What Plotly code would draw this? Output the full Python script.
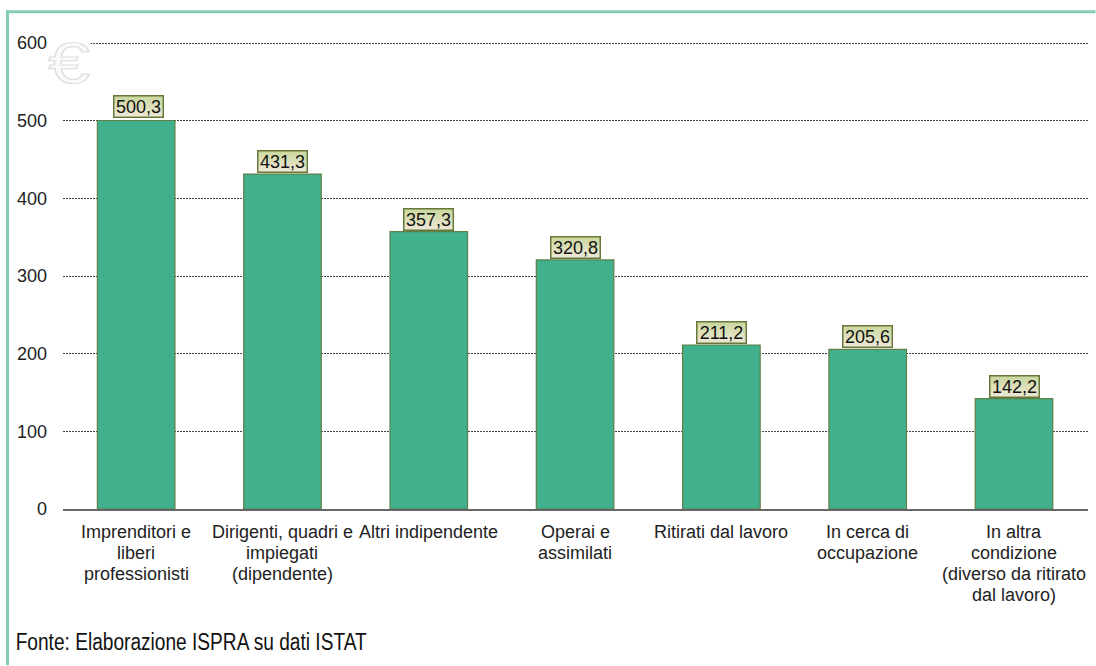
import plotly.graph_objects as go

category_lines = [
    ["Imprenditori e", "liberi", "professionisti"],
    ["Dirigenti, quadri e", "impiegati", "(dipendente)"],
    ["Altri indipendente"],
    ["Operai e", "assimilati"],
    ["Ritirati dal lavoro"],
    ["In cerca di", "occupazione"],
    ["In altra", "condizione", "(diverso da ritirato", "dal lavoro)"],
]
categories = [" ".join(c) for c in category_lines]
values = [500.3, 431.3, 357.3, 320.8, 211.2, 205.6, 142.2]
y_ticks = [0, 100, 200, 300, 400, 500, 600]
source_text = "Fonte: Elaborazione ISPRA su dati ISTAT"

W, H = 1096, 666
L, R, B = 63, 1088.5, 509.5
Y_TOP = 604                         # a little headroom so the 600 gridline is drawn
T = B - 466.5 / 600 * Y_TOP
ARIAL = "Liberation Sans, Arial, sans-serif"


def px(x):
    return (x - L) / (R - L)


def py(y):
    return (B - y) / (B - T)


fig = go.Figure(go.Bar(
    x=categories, y=values, width=0.53,
    marker=dict(color="#41B18D", line=dict(color="#5F7F45", width=1.2)),
    hoverinfo="skip",
))

ann = []
# data labels
for i, (c, v) in enumerate(zip(categories, values)):
    ann.append(dict(x=c, y=v, xref="x", yref="y", yanchor="bottom",
                    yshift=3 if i == 0 else 1, xshift=2 if i == 0 else 0,
                    text=f"{v:.1f}".replace(".", ","), showarrow=False,
                    font=dict(family=ARIAL, size=18, color="#111"),
                    bgcolor="#E2E2C0", bordercolor="#66793A", borderwidth=1.5,
                    borderpad=0, width=48))
# category labels, one line at a time (tight 21px leading)
for c, lines in zip(categories, category_lines):
    for i, line in enumerate(lines):
        ann.append(dict(x=c, y=0, xref="x", yref="paper", yanchor="top",
                        yshift=-11 - 21 * i, text=line, showarrow=False,
                        font=dict(family=ARIAL, size=18, color="#222")))
# euro watermark, masks the start of the top gridline
ann.append(dict(x=px(69), y=py(62), xref="paper", yref="paper",
                xanchor="center", yanchor="middle",
                text="€", showarrow=False, width=42, height=44, bgcolor="white",
                borderpad=0,
                font=dict(family=ARIAL, size=58, color="#E4E4E4")))
# source
ann.append(dict(x=px(191.5), y=py(643), xref="paper", yref="paper",
                xanchor="center", yanchor="middle", text=source_text, showarrow=False,
                font=dict(family=ARIAL, size=23, color="#111")))

fig.update_layout(
    width=W, height=H, autosize=False,
    margin=dict(l=L, r=W - R, t=T, b=H - B),
    paper_bgcolor="white", plot_bgcolor="white",
    showlegend=False, annotations=ann,
    xaxis=dict(showticklabels=False, ticks="", showgrid=False, showline=True,
               linecolor="#666", linewidth=1.5, fixedrange=True),
    yaxis=dict(range=[0, Y_TOP], tickvals=y_ticks, ticks="", showline=False,
               zeroline=False, showgrid=True, gridcolor="#444", gridwidth=1,
               griddash="2px,1px", ticklabelstandoff=15,
               tickfont=dict(family=ARIAL, size=18, color="#222")),
    shapes=[
        dict(type="line", xref="paper", yref="paper", x0=px(6), x1=px(1096),
             y0=py(11.5), y1=py(11.5), line=dict(color="#85CDB5", width=3)),
        dict(type="line", xref="paper", yref="paper", x0=px(7.5), x1=px(7.5),
             y0=py(10), y1=py(666), line=dict(color="#85CDB5", width=3)),
    ],
)

post = """
document.body.style.margin='0';
document.documentElement.style.overflow='hidden';
var svg=document.querySelector('.main-svg');
var ns='http://www.w3.org/2000/svg';
var g=document.createElementNS(ns,'linearGradient');
g.id='labelgrad';g.setAttribute('x1','0');g.setAttribute('y1','0');g.setAttribute('x2','0');g.setAttribute('y2','1');
[['0','#C9D79B'],['1','#EFE8D8']].forEach(function(s){var e=document.createElementNS(ns,'stop');
e.setAttribute('offset',s[0]);e.setAttribute('stop-color',s[1]);g.appendChild(e);});
svg.querySelector('defs').appendChild(g);
document.querySelectorAll('.annotation').forEach(function(a){
  var t=a.querySelector('text');if(!t)return;
  if(/^\\d+,\\d$/.test(t.textContent)){var r=a.querySelector('rect.bg');r.style.fill='url(#labelgrad)';}
  if(t.textContent.indexOf('Fonte')===0){t.setAttribute('textLength','351');t.setAttribute('lengthAdjust','spacingAndGlyphs');}
  if(t.textContent==='\\u20ac'){t.setAttribute('textLength','42');t.setAttribute('lengthAdjust','spacingAndGlyphs');
    t.style.fill='#FAFAFA';t.style.stroke='#DEDEDE';t.style.strokeWidth='1.2';}
});
"""
fig.write_html("out.html", config=dict(displayModeBar=False), post_script=post)
